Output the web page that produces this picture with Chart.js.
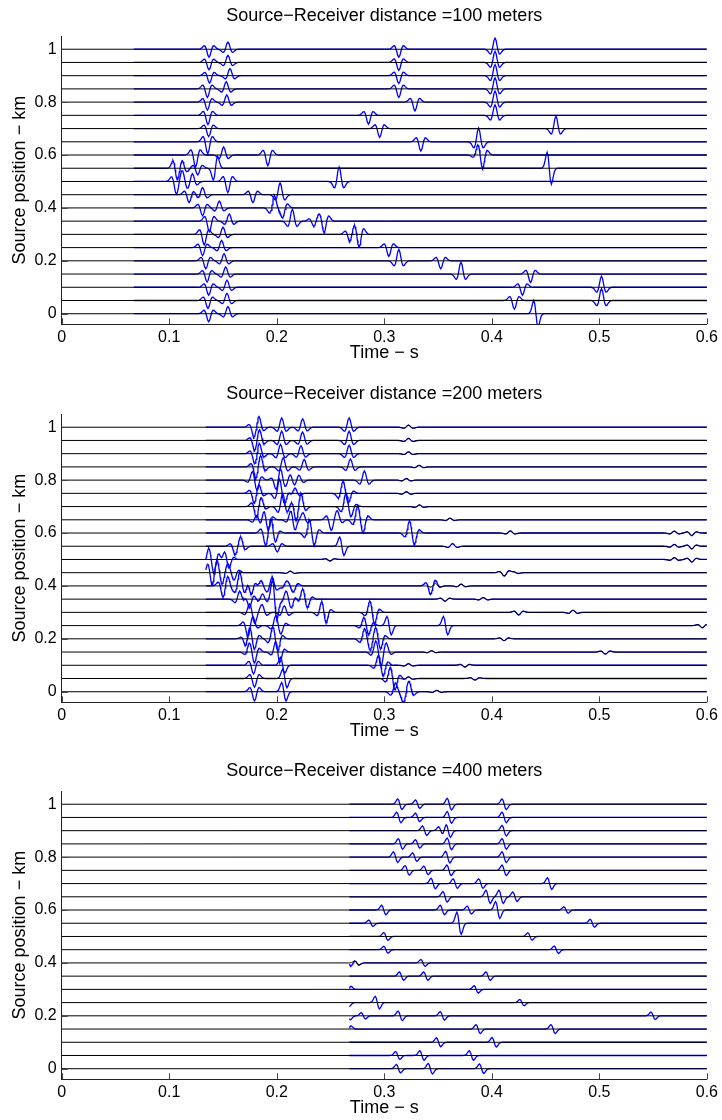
<!DOCTYPE html>
<html>
<head>
<meta charset="utf-8">
<script src="https://cdn.jsdelivr.net/npm/chart.js@4.4.0/dist/chart.umd.min.js"></script>
<style>
  html, body { margin: 0; padding: 0; background: #fff; overflow: hidden; }
  .panel { position: absolute; left: 0; width: 722px; height: 364px; }
</style>
</head>
<body>
<div class="panel" style="top:0px"><canvas id="c100"></canvas></div>
<div class="panel" style="top:378px"><canvas id="c200"></canvas></div>
<div class="panel" style="top:755px"><canvas id="c400"></canvas></div>
<script>
// source positions of the traces, top to bottom (km)
const positions = [1, 0.95, 0.9, 0.85, 0.8, 0.75, 0.7, 0.65, 0.6, 0.55, 0.5,
                   0.45, 0.4, 0.35, 0.3, 0.25, 0.2, 0.15, 0.1, 0.05, 0];
const xTicks = [0, 0.1, 0.2, 0.3, 0.4, 0.5, 0.6];
const yTicks = [0, 0.2, 0.4, 0.6, 0.8, 1];
const titles = ['Source\u2212Receiver distance =100 meters',
                'Source\u2212Receiver distance =200 meters',
                'Source\u2212Receiver distance =400 meters'];
// time where the blue trace begins in each panel (s)
const traceStart = [0.067, 0.134, 0.2675];
const T_END = 0.6;

// wavelet shapes, 1 ms samples
const RICKER = [0, -0.02, -0.06, -0.14, -0.27, -0.41, -0.43, -0.21, 0.26, 0.78, 1,
                0.78, 0.26, -0.21, -0.43, -0.41, -0.27, -0.14, -0.06, -0.02, 0];
const ODD = [0, 0.01, 0.06, 0.18, 0.45, 0.8, 1, 0.73, 0, -0.73, -1, -0.8, -0.45, -0.18, -0.06, -0.01, 0];
const WAVELETS = [RICKER, ODD];
const SAMPLE = 0.001;

// arrivals per trace: [time s, amplitude km, shape (0 ricker, 1 odd)]
const arrivals100 = [
  [[0.137, -0.03], [0.1546, 0.027], [0.3135, -0.03], [0.403, 0.042]],
  [[0.137, -0.028], [0.1546, 0.027], [0.3135, -0.03], [0.403, 0.042]],
  [[0.1375, -0.028], [0.1565, 0.027], [0.3135, -0.03], [0.403, 0.042]],
  [[0.1355, -0.032], [0.153, 0.027], [0.3135, -0.032], [0.403, 0.042]],
  [[0.1355, -0.03], [0.1535, 0.027], [0.3285, -0.033], [0.403, 0.042]],
  [[0.136, -0.035], [0.2853, -0.033], [0.403, 0.04]],
  [[0.1367, -0.03], [0.2957, -0.033], [0.4596, 0.047]],
  [[0.1358, -0.045], [0.334, -0.035], [0.3877, 0.052]],
  [[0.1245, -0.045], [0.1506, 0.03], [0.1917, -0.04], [0.387, 0.02], [0.3914, -0.042]],
  [[0.1055, 0.03, 1], [0.112, 0.03], [0.1265, -0.025], [0.143, -0.045, 1], [0.4534, 0.06, 1]],
  [[0.1065, -0.04], [0.1125, 0.03], [0.1215, 0.03], [0.1545, -0.042], [0.258, 0.055]],
  [[0.1185, -0.03], [0.131, 0.027], [0.1778, -0.03], [0.2031, 0.045]],
  [[0.131, -0.03], [0.1466, 0.026], [0.1977, 0.045], [0.2055, -0.035]],
  [[0.1373, -0.04], [0.1558, 0.027], [0.2145, 0.045], [0.2345, -0.02], [0.244, -0.045]],
  [[0.1325, -0.04], [0.15, 0.027], [0.268, -0.028], [0.2765, -0.05]],
  [[0.131, -0.03], [0.1487, 0.027], [0.3042, -0.033]],
  [[0.134, -0.03], [0.151, 0.027], [0.3135, 0.043], [0.3525, -0.03]],
  [[0.1352, -0.03], [0.1525, 0.027], [0.3713, 0.045], [0.436, -0.032]],
  [[0.1367, -0.03], [0.1537, 0.027], [0.4285, -0.03], [0.502, 0.042]],
  [[0.136, -0.03], [0.1537, 0.027], [0.421, -0.033], [0.502, 0.045]],
  [[0.1367, -0.03], [0.1546, 0.027], [0.441, 0.05, 1]]
];

const arrivals200 = [
  [[0.1787, -0.025], [0.1835, 0.03], [0.2046, 0.035], [0.2241, 0.032], [0.2673, 0.035], [0.3225, 0.008]],
  [[0.1793, -0.025], [0.184, 0.03], [0.2046, 0.035], [0.224, 0.032], [0.2673, 0.035], [0.3225, 0.008]],
  [[0.1795, -0.025], [0.1838, 0.028], [0.2035, 0.035], [0.2225, 0.03], [0.2673, 0.032], [0.3225, 0.007]],
  [[0.1805, -0.03], [0.185, 0.03], [0.206, 0.035], [0.2255, 0.028], [0.2685, 0.03], [0.3324, 0.006]],
  [[0.1775, 0.02], [0.1815, -0.03], [0.1995, -0.02], [0.2035, 0.035], [0.2125, 0.022], [0.2205, 0.02], [0.2815, 0.035], [0.3205, 0.006]],
  [[0.179, -0.028], [0.1835, 0.02], [0.2025, 0.045], [0.2075, -0.02], [0.217, 0.02], [0.2615, 0.04], [0.267, -0.02], [0.3205, 0.006]],
  [[0.181, -0.033], [0.1855, 0.02], [0.2055, 0.05], [0.218, -0.04], [0.2225, 0.033], [0.2642, 0.045], [0.2695, -0.02], [0.3327, 0.006]],
  [[0.1815, 0.02], [0.1885, 0.025], [0.1917, -0.03], [0.2135, 0.025], [0.2165, -0.03], [0.2245, 0.025], [0.2505, -0.033], [0.2565, 0.025], [0.275, 0.04], [0.2805, -0.035], [0.3611, 0.006]],
  [[0.1895, -0.035], [0.1948, 0.033], [0.1985, -0.02], [0.2302, 0.038], [0.235, -0.03], [0.3234, 0.033], [0.328, -0.03], [0.4172, 0.008], [0.5697, 0.007], [0.586, -0.01]],
  [[0.161, -0.022], [0.1665, 0.028], [0.2005, -0.022], [0.2605, 0.035, 1], [0.3635, 0.01], [0.5697, 0.007], [0.586, -0.01]],
  [[0.1367, 0.03], [0.1415, -0.03], [0.1465, 0.02], [0.1515, 0.028], [0.1555, -0.02], [0.2495, -0.006], [0.5697, 0.007], [0.586, -0.01]],
  [[0.1365, 0.025], [0.1395, -0.03], [0.1445, 0.025], [0.149, -0.025], [0.1545, 0.02], [0.1605, -0.022], [0.2125, 0.006], [0.4114, -0.01], [0.4165, 0.006], [0.4205, 0.006]],
  [[0.15, -0.035], [0.1545, 0.02], [0.1655, 0.045], [0.171, -0.02], [0.1762, -0.04], [0.1855, 0.02], [0.1957, 0.035], [0.209, 0.015], [0.2155, -0.02], [0.343, -0.028], [0.3475, 0.01], [0.3715, 0.007]],
  [[0.1655, 0.03], [0.1747, -0.03], [0.1868, 0.02], [0.198, 0.075, 1], [0.2085, 0.02], [0.2135, -0.025], [0.2241, 0.03], [0.2285, -0.02], [0.3565, -0.008], [0.392, 0.006]],
  [[0.1745, 0.02], [0.1795, -0.03], [0.1865, 0.025], [0.207, 0.025], [0.242, 0.03], [0.2457, -0.028], [0.2865, 0.03], [0.291, -0.03], [0.425, -0.01], [0.4755, 0.008]],
  [[0.1731, -0.033], [0.178, 0.02], [0.199, 0.03], [0.204, -0.02], [0.281, 0.02], [0.2855, -0.025], [0.3045, 0.035, 1], [0.357, 0.035, 1], [0.5957, -0.008]],
  [[0.1716, -0.02], [0.1745, 0.025], [0.1793, -0.03], [0.1963, 0.033], [0.201, -0.03], [0.2815, 0.03], [0.287, -0.025], [0.292, 0.02], [0.2965, -0.03], [0.4114, -0.007]],
  [[0.1745, 0.02], [0.1793, -0.033], [0.1994, 0.03], [0.2025, -0.03], [0.292, 0.028], [0.297, -0.035], [0.302, 0.02], [0.344, 0.005], [0.5056, -0.008]],
  [[0.1784, -0.033], [0.2055, 0.03, 1], [0.2945, 0.025], [0.299, -0.03], [0.3225, 0.006], [0.375, -0.007]],
  [[0.1793, -0.033], [0.2075, 0.035, 1], [0.3055, 0.03], [0.31, -0.03], [0.3225, 0.006], [0.3843, -0.006]],
  [[0.1793, -0.035], [0.2066, 0.035, 1], [0.3102, 0.03], [0.3176, -0.028], [0.3231, 0.03], [0.3488, 0.005]]
];

const arrivals400 = [
  [[0.3145, 0.02, 1], [0.331, 0.016, 1], [0.3605, 0.022, 1], [0.4115, 0.02, 1]],
  [[0.3135, 0.02, 1], [0.331, 0.016, 1], [0.3605, 0.022, 1], [0.4115, 0.02, 1]],
  [[0.3375, 0.018, 1], [0.3525, 0.015, 1], [0.3595, 0.025, 1], [0.4115, 0.02, 1]],
  [[0.315, 0.02, 1], [0.331, 0.016, 1], [0.3605, 0.022, 1], [0.4115, 0.02, 1]],
  [[0.3105, 0.02, 1], [0.3283, 0.016, 1], [0.359, 0.022, 1], [0.4115, 0.02, 1]],
  [[0.3213, 0.018, 1], [0.3388, 0.016, 1], [0.3602, 0.02, 1], [0.4115, 0.02, 1]],
  [[0.3455, 0.02, 1], [0.366, 0.018, 1], [0.3898, 0.018, 1], [0.4537, 0.022, 1]],
  [[0.3565, 0.02, 1], [0.3965, 0.025, 1], [0.4086, 0.025, 1], [0.4215, 0.018, 1]],
  [[0.2995, 0.018, 1], [0.354, 0.018, 1], [0.379, 0.015, 1], [0.4055, 0.032, 1], [0.469, 0.012, 1]],
  [[0.2875, 0.012, 1], [0.3695, 0.042, 1], [0.4935, 0.015, 1]],
  [[0.3015, 0.015, 1], [0.4355, 0.014, 1]],
  [[0.3015, 0.013, 1], [0.46, 0.014, 1]],
  [[0.267, 0.012, 1], [0.2745, 0.008, 1], [0.336, 0.013, 1]],
  [[0.316, 0.016, 1], [0.3386, 0.016, 1], [0.3965, 0.016, 1]],
  [[0.267, -0.012, 1], [0.3855, 0.014, 1]],
  [[0.2655, 0.015, 1], [0.2935, 0.024, 1], [0.428, 0.012, 1]],
  [[0.2665, 0.015, 1], [0.2805, 0.012, 1], [0.3148, 0.018, 1], [0.354, 0.016, 1], [0.55, 0.014, 1]],
  [[0.267, -0.012, 1], [0.3873, 0.017, 1], [0.457, 0.017, 1]],
  [[0.3505, 0.017, 1], [0.4022, 0.018, 1]],
  [[0.3125, 0.015, 1], [0.335, 0.018, 1], [0.381, 0.018, 1]],
  [[0.3132, 0.016, 1], [0.3428, 0.02, 1], [0.3905, 0.018, 1]]
];

const FONT = '"Liberation Sans", Arial, Helvetica, sans-serif';

function waveletAt(shape, dt) {
  const half = (shape.length - 1) / 2;
  const u = dt / SAMPLE + half;
  if (u <= 0 || u >= shape.length - 1) return 0;
  const i = Math.floor(u), f = u - i;
  return shape[i] * (1 - f) + shape[i + 1] * f;
}

// points of one trace: baseline plus the wavelets of its arrivals
function traceData(pos, events, start) {
  const times = new Set([start, T_END]);
  events.forEach(([t0, , kind]) => {
    const half = (WAVELETS[kind || 0].length - 1) / 2;
    for (let k = -half; k <= half; k++) {
      const t = +(t0 + k * SAMPLE).toFixed(5);
      if (t > start && t < T_END) times.add(t);
    }
  });
  return [...times].sort((a, b) => a - b).map(t => ({
    x: t,
    y: pos + events.reduce((s, [t0, amp, kind]) => s + amp * waveletAt(WAVELETS[kind || 0], t - t0), 0)
  }));
}

// small tick marks pointing into the plot
const inwardTicks = {
  id: 'inwardTicks',
  afterDatasetsDraw(chart) {
    const { ctx, chartArea, scales: { x, y } } = chart;
    ctx.save();
    ctx.strokeStyle = '#444';
    ctx.lineWidth = 1;
    ctx.beginPath();
    x.ticks.forEach(t => {
      const px = Math.round(x.getPixelForValue(t.value)) + 0.5;
      ctx.moveTo(px, chartArea.bottom);
      ctx.lineTo(px, chartArea.bottom - 6);
    });
    y.ticks.forEach(t => {
      const py = Math.round(y.getPixelForValue(t.value)) + 0.5;
      ctx.moveTo(chartArea.left, py);
      ctx.lineTo(chartArea.left + 6, py);
    });
    ctx.stroke();
    ctx.restore();
  }
};

function makePanel(id, title, arrivals, start) {
  const datasets = [];
  positions.forEach((pos, i) => {
    datasets.push({
      data: traceData(pos, arrivals[i], start),
      borderColor: '#0000ff',
      borderWidth: 1.3,
      order: 1
    });
    datasets.push({
      data: traceData(pos, arrivals[i].filter(e => Math.abs(e[1]) <= 0.01), 0),
      borderColor: '#000000',
      borderWidth: 1,
      order: 0
    });
  });

  new Chart(document.getElementById(id), {
    type: 'line',
    data: { datasets },
    options: {
      responsive: true,
      maintainAspectRatio: false,
      animation: false,
      events: [],
      parsing: false,
      normalized: true,
      elements: { point: { radius: 0 }, line: { tension: 0, fill: false } },
      layout: { padding: { left: 0, right: 12.3, top: 0, bottom: 0 } },
      plugins: {
        legend: { display: false },
        tooltip: { enabled: false },
        title: {
          display: true,
          fullSize: false,
          text: title,
          color: '#000',
          font: { family: FONT, size: 18, weight: 'normal' },
          padding: { top: 5.7, bottom: 8.7 }
        }
      },
      scales: {
        x: {
          type: 'linear',
          min: 0,
          max: 0.6,
          afterBuildTicks: s => { s.ticks = xTicks.map(v => ({ value: v })); },
          afterFit: s => { s.height = 39.7; },
          grid: { display: false, drawTicks: false },
          border: { display: true, color: '#222', width: 1 },
          ticks: { color: '#000', font: { family: FONT, size: 16 }, padding: 4, maxRotation: 0,
                   autoSkip: false, callback: v => String(v) },
          title: { display: true, text: 'Time \u2212 s', color: '#000',
                   font: { family: FONT, size: 18 }, padding: { top: 0, bottom: 0 } }
        },
        y: {
          type: 'linear',
          min: -0.04,
          max: 1.05,
          afterBuildTicks: s => { s.ticks = yTicks.map(v => ({ value: v })); },
          afterFit: s => { s.width = 61.7; },
          grid: { display: false, drawTicks: false },
          border: { display: true, color: '#222', width: 1 },
          ticks: { color: '#000', font: { family: FONT, size: 16 }, padding: 5,
                   autoSkip: false, callback: v => String(v) },
          title: { display: true, text: 'Source position \u2212 km', color: '#000',
                   font: { family: FONT, size: 18 }, padding: { top: 9, bottom: 0 } }
        }
      }
    },
    plugins: [inwardTicks]
  });
}

makePanel('c100', titles[0], arrivals100, traceStart[0]);
makePanel('c200', titles[1], arrivals200, traceStart[1]);
makePanel('c400', titles[2], arrivals400, traceStart[2]);
</script>
</body>
</html>
